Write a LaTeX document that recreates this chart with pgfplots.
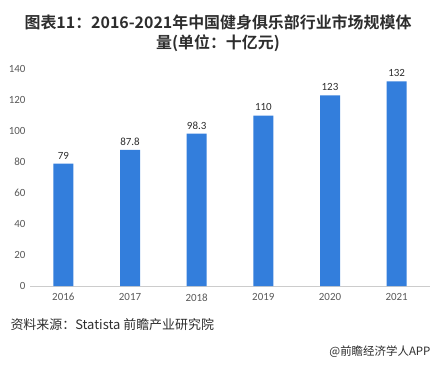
\documentclass[border=0pt]{standalone}
\usepackage{fontspec}
\usepackage{pgfplots}
\pgfplotsset{compat=1.18}
\setmainfont{Carlito}
\newfontfamily\cjk{Noto Sans CJK SC}
\newfontfamily\cjkb{Noto Sans CJK SC Bold}
\definecolor{barblue}{RGB}{51,126,220}
\definecolor{tickgray}{RGB}{89,89,89}
\definecolor{titlegray}{RGB}{45,45,45}
\begin{document}
\begin{tikzpicture}[x=1bp,y=1bp]
\path[use as bounding box] (0,0) rectangle (437,364);
\node[font=\cjkb\fontsize{16}{19}\selectfont, text=titlegray, align=center] at (218,342) {图表11：2016-2021年中国健身俱乐部行业市场规模体};
\node[font=\cjkb\fontsize{16}{19}\selectfont, text=titlegray, align=center] at (218,321) {量(单位：十亿元)};
\node[font=\cjk\fontsize{13}{15}\selectfont, text=titlegray, anchor=west] at (7,39) {资料来源：Statista 前瞻产业研究院};
\node[font=\cjk\fontsize{11.5}{14}\selectfont, text=titlegray, anchor=east] at (434,12) {@前瞻经济学人APP};
\begin{axis}[
  at={(30bp,78bp)}, anchor=south west,
  scale only axis, width=400bp, height=217bp,
  xmin=-0.5, xmax=5.5, ymin=0, ymax=140,
  xtick={0,1,2,3,4,5},
  xticklabels={2016,2017,2018,2019,2020,2021},
  ytick={0,20,40,60,80,100,120,140},
  axis x line*=bottom,
  axis y line*=left,
  x axis line style={draw=gray!40, line width=0.8pt, -},
  y axis line style={draw=none},
  tick style={draw=none},
  ticklabel style={font=\fontsize{11}{13}\selectfont, text=tickgray},
  yticklabel style={xshift=-1bp},
  xticklabel style={yshift=-4bp},
  /pgf/number format/assume math mode=true,
  clip=false,
]
\addplot[ybar, bar width=20bp, fill=barblue, draw=none,
  nodes near coords, nodes near coords style={font=\fontsize{11}{13}\selectfont, text=titlegray, yshift=1bp},
  point meta=explicit symbolic]
  coordinates {(0,79)[79] (1,87.8)[87.8] (2,98.3)[98.3] (3,110)[110] (4,123)[123] (5,132)[132]};
\end{axis}
\end{tikzpicture}
\end{document}
